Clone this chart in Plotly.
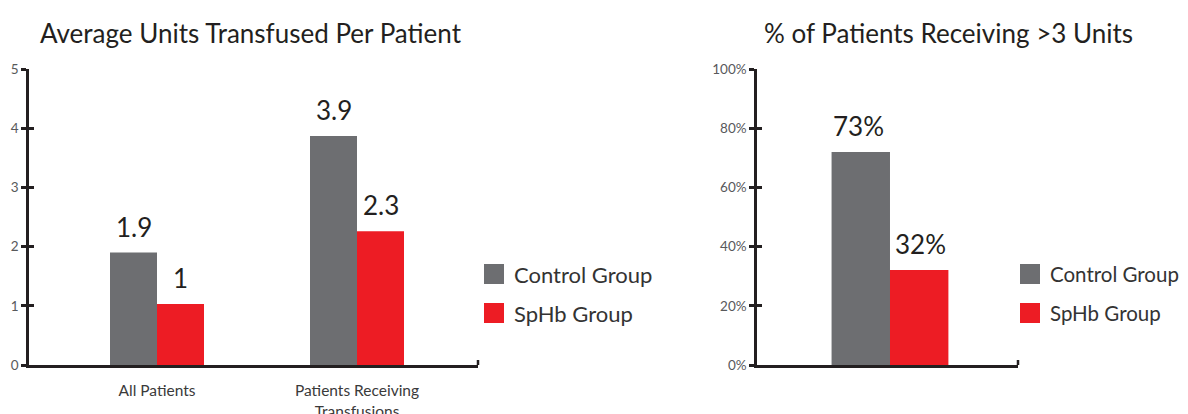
import plotly.graph_objects as go

# ---- data ----
categories_left = ["All Patients", "Patients Receiving<br>Transfusions"]
control_units = [1.9, 3.87]
sphb_units = [1.03, 2.26]
control_units_labels = ["1.9", "3.9"]
sphb_units_labels = ["1", "2.3"]

categories_right = [">3 Units"]
control_pct = [0.72]
sphb_pct = [0.321]
control_pct_labels = ["73%"]
sphb_pct_labels = ["32%"]

series_names = ["Control Group", "SpHb Group"]
left_ticks = [0, 1, 2, 3, 4, 5]
right_ticks = [0, 0.2, 0.4, 0.6, 0.8, 1.0]

# ---- style ----
GRAY = "#6d6e71"
RED = "#ed1c24"
INK = "#231f20"
TICKC = "#58595b"
FONT = "Lato"
PAGE_W, PAGE_H = 1188, 414
OFF = 8  # default page body margin
W, H = PAGE_W - OFF, PAGE_H - OFF

fig = go.Figure()
fig.add_trace(go.Bar(x=categories_left, y=control_units, name=series_names[0],
                     marker=dict(color=GRAY, line_width=0), xaxis="x", yaxis="y",
                     showlegend=False, hoverinfo="y"))
fig.add_trace(go.Bar(x=categories_left, y=sphb_units, name=series_names[1],
                     marker=dict(color=RED, line_width=0), xaxis="x", yaxis="y",
                     showlegend=False, hoverinfo="y"))
fig.add_trace(go.Bar(x=categories_right, y=control_pct, name=series_names[0],
                     marker=dict(color=GRAY, line_width=0), xaxis="x2", yaxis="y3",
                     showlegend=False, hoverinfo="y"))
fig.add_trace(go.Bar(x=categories_right, y=sphb_pct, name=series_names[1],
                     marker=dict(color=RED, line_width=0), xaxis="x2", yaxis="y3",
                     showlegend=False, hoverinfo="y"))
# invisible helper traces so overlay axes get drawn
fig.add_trace(go.Scatter(x=[None], y=[None], xaxis="x", yaxis="y2", showlegend=False, hoverinfo="skip"))
fig.add_trace(go.Scatter(x=[None], y=[None], xaxis="x2", yaxis="y4", showlegend=False, hoverinfo="skip"))


def px_x(p):
    """page pixel x -> paper fraction"""
    return (p - OFF) / W


def px_y(p):
    """page pixel y -> paper fraction"""
    return 1 - (p - OFF) / H


y_dom = [px_y(365), px_y(69)]
xl_dom = [px_x(29), px_x(478)]
xr_dom = [px_x(757), px_x(1018)]

axis_common = dict(showgrid=False, zeroline=False, showline=True, linecolor=INK, linewidth=2.5,
                   automargin=False)
overlay_common = dict(showgrid=False, zeroline=False, showline=False, showticklabels=False,
                      ticks="inside", ticklen=5, tickwidth=2.5, tickcolor=INK, automargin=False)

fig.update_layout(
    width=W, height=H,
    margin=dict(l=0, r=0, t=0, b=0, autoexpand=False),
    paper_bgcolor="white", plot_bgcolor="white",
    barmode="group", bargap=0.53, bargroupgap=0,
    font=dict(family=FONT, color=INK),
    showlegend=False,
    xaxis=dict(domain=xl_dom, anchor="y", range=[-0.64, 1.605], **axis_common,
               ticks="outside", ticklen=10, tickcolor="rgba(0,0,0,0)",
               tickfont=dict(size=15.5, color="#3a3a3a")),
    yaxis=dict(domain=y_dom, anchor="x", range=[0, 5], tickvals=left_ticks, **axis_common,
               ticks="outside", ticklen=5, tickwidth=2.5, tickcolor=INK,
               tickfont=dict(size=13.5, color=TICKC)),
    yaxis2=dict(domain=y_dom, anchor="x", overlaying="y", range=[0, 5], tickvals=left_ticks,
                **overlay_common),
    xaxis2=dict(domain=xr_dom, anchor="y3", range=[-0.535, 0.515], **axis_common,
                showticklabels=False, ticks=""),
    yaxis3=dict(domain=y_dom, anchor="x2", range=[0, 1], tickvals=right_ticks, tickformat=".0%",
                **axis_common, ticks="outside", ticklen=5, tickwidth=2.5, tickcolor=INK,
                tickfont=dict(size=13.5, color=TICKC)),
    yaxis4=dict(domain=y_dom, anchor="x2", overlaying="y3", range=[0, 1], tickvals=right_ticks,
                **overlay_common),
)

shapes = []
annotations = []

# end ticks of x axes
for xref, yref, top in [("x domain", "y", 5), ("x2 domain", "y3", 1)]:
    d = top * 5 / 296
    shapes.append(dict(type="line", xref=xref, yref=yref, x0=1, x1=1, y0=-d, y1=d,
                       line=dict(color=INK, width=2.5)))

# value labels
for cats, vals, labels, shift, yref, xref in [
    (categories_left, control_units, control_units_labels, -23.5, "y", "x"),
    (categories_left, sphb_units, sphb_units_labels, 23.5, "y", "x"),
    (categories_right, control_pct, control_pct_labels, -31, "y3", "x2"),
    (categories_right, sphb_pct, sphb_pct_labels, 31, "y3", "x2"),
]:
    for c, v, t in zip(cats, vals, labels):
        annotations.append(dict(x=c, y=v, xref=xref, yref=yref, text=t, showarrow=False,
                                xshift=shift, yshift=8, yanchor="bottom",
                                font=dict(size=26, color=INK, family=FONT)))

# titles
annotations.append(dict(x=px_x(38), y=px_y(33), xref="paper", yref="paper", xanchor="left",
                        yanchor="middle", showarrow=False, text="Average Units Transfused Per Patient",
                        font=dict(size=26, color=INK, family=FONT)))
annotations.append(dict(x=px_x(762), y=px_y(33), xref="paper", yref="paper", xanchor="left",
                        yanchor="middle", showarrow=False, text="% of Patients Receiving >3 Units",
                        font=dict(size=26, color=INK, family=FONT)))

# manual legends
for lx, fs in [(484, 22), (1020, 20.5)]:
    for i, (name, col) in enumerate(zip(series_names, [GRAY, RED])):
        top = 264 + i * 39
        shapes.append(dict(type="rect", xref="paper", yref="paper",
                           x0=px_x(lx), x1=px_x(lx + 20), y0=px_y(top + 20), y1=px_y(top),
                           fillcolor=col, line_width=0))
        annotations.append(dict(x=px_x(lx + 28), y=px_y(top + 10), xref="paper", yref="paper",
                                xanchor="left", yanchor="middle", showarrow=False, text=name,
                                font=dict(size=fs, color="#333333", family=FONT)))

fig.update_layout(shapes=shapes, annotations=annotations)
fig.write_html("out.html")
